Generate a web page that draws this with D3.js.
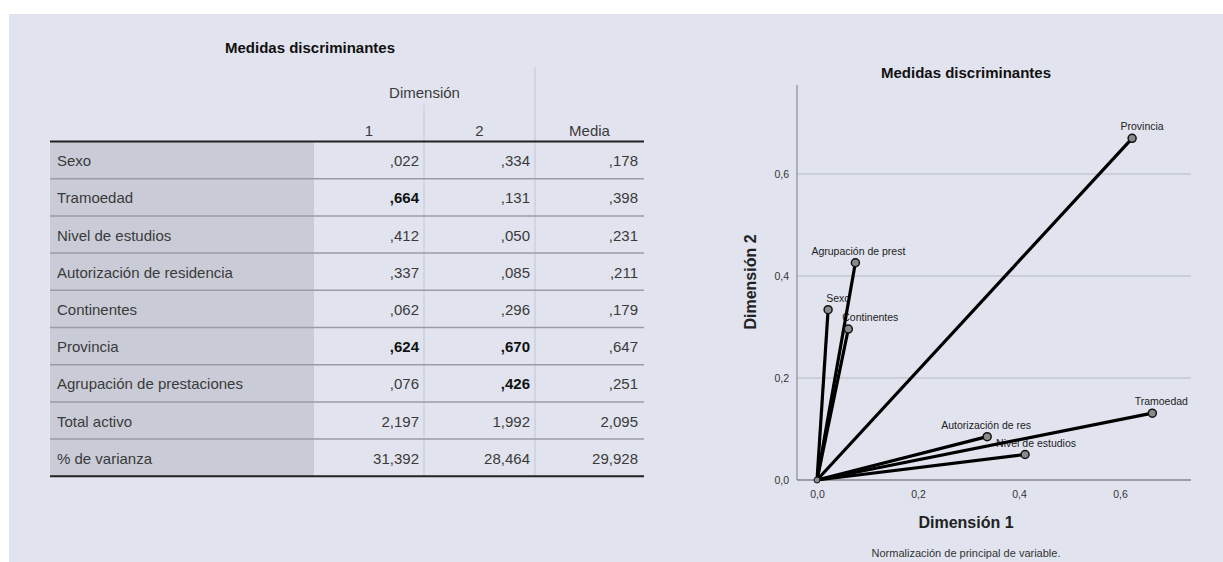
<!DOCTYPE html>
<html><head><meta charset="utf-8">
<script src="https://cdn.jsdelivr.net/npm/d3@7"></script>
<style>
html,body{margin:0;padding:0;background:#fff;}
text{font-family:"Liberation Sans",Arial,sans-serif;}
</style></head>
<body>
<svg id="c" width="1223" height="562"></svg>
<script>
// ---- data ----
const rowLabels = ["Sexo","Tramoedad","Nivel de estudios","Autorización de residencia","Continentes","Provincia","Agrupación de prestaciones","Total activo","% de varianza"];
const dim1 = [0.022,0.664,0.412,0.337,0.062,0.624,0.076,2.197,31.392];
const dim2 = [0.334,0.131,0.050,0.085,0.296,0.670,0.426,1.992,28.464];
const media = [0.178,0.398,0.231,0.211,0.179,0.647,0.251,2.095,29.928];
const bold1 = [false,true,false,false,false,true,false,false,false];
const bold2 = [false,false,false,false,false,true,true,false,false];
const colHeaders = ["1","2","Media"];
const plotLabels = ["Sexo","Tramoedad","Nivel de estudios","Autorización de res","Continentes","Provincia","Agrupación de prest"];
const plotX = [0.022,0.664,0.412,0.337,0.062,0.624,0.076];
const plotY = [0.334,0.131,0.050,0.085,0.296,0.670,0.426];
const tickVals = [0,0.2,0.4,0.6];

// ---- layout ----
const svg = d3.select("#c");
const BG = "#e1e4ee";
svg.append("rect").attr("x",9).attr("y",14).attr("width",1214).attr("height",548).attr("fill",BG);

const fmt = v => {
  let s = d3.format(".3f")(v).replace(".",",");
  if (v < 1) s = s.replace(/^0/,"");
  return s;
};

// ---- table ----
const T = {left:50, right:644, labelEnd:314, c1:424, c2:535, headLine:141.5, rowH:37.2};
const g = svg.append("g");
g.append("text").attr("x",310).attr("y",53).attr("text-anchor","middle")
  .attr("font-size",15).attr("font-weight","bold").attr("fill","#111").text("Medidas discriminantes");
const nRows = rowLabels.length;
const yRow = d3.scaleLinear().domain([0,nRows]).range([T.headLine, T.headLine + T.rowH*nRows]);
g.append("rect").attr("x",T.left).attr("y",yRow(0)).attr("width",T.labelEnd-T.left).attr("height",yRow(nRows)-yRow(0)).attr("fill","#c9ccd7");
g.append("line").attr("x1",T.c1).attr("x2",T.c1).attr("y1",105).attr("y2",yRow(nRows)).attr("stroke","#c3c6d0").attr("stroke-width",1);
g.append("line").attr("x1",T.c2).attr("x2",T.c2).attr("y1",67).attr("y2",yRow(nRows)).attr("stroke","#c3c6d0").attr("stroke-width",1);
g.append("text").attr("x",(T.labelEnd+T.c2)/2).attr("y",98).attr("text-anchor","middle").attr("font-size",15).attr("fill","#3a3a3a").text("Dimensión");
const colCenters = [(T.labelEnd+T.c1)/2,(T.c1+T.c2)/2,(T.c2+T.right)/2];
colHeaders.forEach((h,i)=>{
  g.append("text").attr("x",colCenters[i]).attr("y",136).attr("text-anchor","middle").attr("font-size",15).attr("fill","#3a3a3a").text(h);
});
d3.range(1,nRows).forEach(i=>{
  g.append("line").attr("x1",T.left).attr("x2",T.right).attr("y1",yRow(i)).attr("y2",yRow(i)).attr("stroke","#9a9ca4").attr("stroke-width",1.5);
});
g.append("line").attr("x1",T.left).attr("x2",T.right).attr("y1",yRow(0)).attr("y2",yRow(0)).attr("stroke","#222").attr("stroke-width",2);
g.append("line").attr("x1",T.left).attr("x2",T.right).attr("y1",yRow(nRows)).attr("y2",yRow(nRows)).attr("stroke","#222").attr("stroke-width",2);
const colRight = [T.c1-5,T.c2-5,T.right-6];
rowLabels.forEach((lab,i)=>{
  const ty = yRow(i)+T.rowH/2+6;
  g.append("text").attr("x",T.left+7).attr("y",ty).attr("font-size",15).attr("fill","#3a3a3a").text(lab);
  [[dim1,bold1],[dim2,bold2],[media,null]].forEach(([arr,b],j)=>{
    g.append("text").attr("x",colRight[j]).attr("y",ty).attr("text-anchor","end").attr("font-size",15)
      .attr("font-weight", b && b[i] ? "bold":"normal").attr("fill", b && b[i] ? "#111":"#3a3a3a").text(fmt(arr[i]));
  });
});

// ---- chart ----
const x = d3.scaleLinear().domain([0,0.6]).range([817,1120]);
const y = d3.scaleLinear().domain([0,0.6]).range([480,174]);
const axL = 797, axR = 1191, axT = 85, axB = 480;
const cg = svg.append("g");
cg.append("text").attr("x",966).attr("y",78).attr("text-anchor","middle").attr("font-size",15).attr("font-weight","bold").attr("fill","#111").text("Medidas discriminantes");
tickVals.filter(v=>v>0).forEach(v=>{
  cg.append("line").attr("x1",axL).attr("x2",axR).attr("y1",y(v)).attr("y2",y(v)).attr("stroke","#b4b7c2").attr("stroke-width",1.2);
});
const yAxis = d3.axisLeft(y).tickValues(tickVals).tickSize(0).tickPadding(8).tickFormat(d=>d3.format(".1f")(d).replace(".",","));
const ya = cg.append("g").attr("transform",`translate(${axL},0)`).call(yAxis);
ya.select(".domain").remove();
ya.selectAll("text").attr("font-size",10.5).attr("fill","#333").attr("font-family","Liberation Sans, Arial");
const xAxis = d3.axisBottom(x).tickValues(tickVals).tickSize(0).tickPadding(11).tickFormat(d=>d3.format(".1f")(d).replace(".",","));
const xa = cg.append("g").attr("transform",`translate(0,${axB})`).call(xAxis);
xa.select(".domain").remove();
xa.selectAll("text").attr("font-size",10.5).attr("fill","#333").attr("font-family","Liberation Sans, Arial");
cg.append("line").attr("x1",axL).attr("x2",axL).attr("y1",axT).attr("y2",axB).attr("stroke","#8a8c94").attr("stroke-width",1.2);
cg.append("line").attr("x1",axL).attr("x2",axR).attr("y1",axB).attr("y2",axB).attr("stroke","#55575e").attr("stroke-width",1.2);
cg.append("text").attr("x",966).attr("y",528).attr("text-anchor","middle").attr("font-size",16).attr("font-weight","bold").attr("fill","#222").text("Dimensión 1");
cg.append("text").attr("transform","translate(756,282) rotate(-90)").attr("text-anchor","middle").attr("font-size",16).attr("font-weight","bold").attr("fill","#222").text("Dimensión 2");
cg.append("text").attr("x",966).attr("y",557).attr("text-anchor","middle").attr("font-size",11).attr("fill","#333").text("Normalización de principal de variable.");
const labelDx = [10,9,11,-1,22,10,3];
plotLabels.forEach((lab,i)=>{
  cg.append("text").attr("x",x(plotX[i])+labelDx[i]).attr("y",y(plotY[i])-8).attr("text-anchor","middle")
    .attr("font-size",10.5).attr("fill","#222").text(lab);
});
plotLabels.forEach((lab,i)=>{
  cg.append("line").attr("x1",x(0)).attr("y1",y(0)).attr("x2",x(plotX[i])).attr("y2",y(plotY[i]))
    .attr("stroke","#000").attr("stroke-width",3.2);
});
plotLabels.forEach((lab,i)=>{
  cg.append("circle").attr("cx",x(plotX[i])).attr("cy",y(plotY[i])).attr("r",4)
    .attr("fill","#8a8a8a").attr("stroke","#111").attr("stroke-width",1.5);
});
cg.append("circle").attr("cx",x(0)).attr("cy",y(0)).attr("r",3).attr("fill","#8a8a8a").attr("stroke","#111").attr("stroke-width",1);
</script>
</body></html>
